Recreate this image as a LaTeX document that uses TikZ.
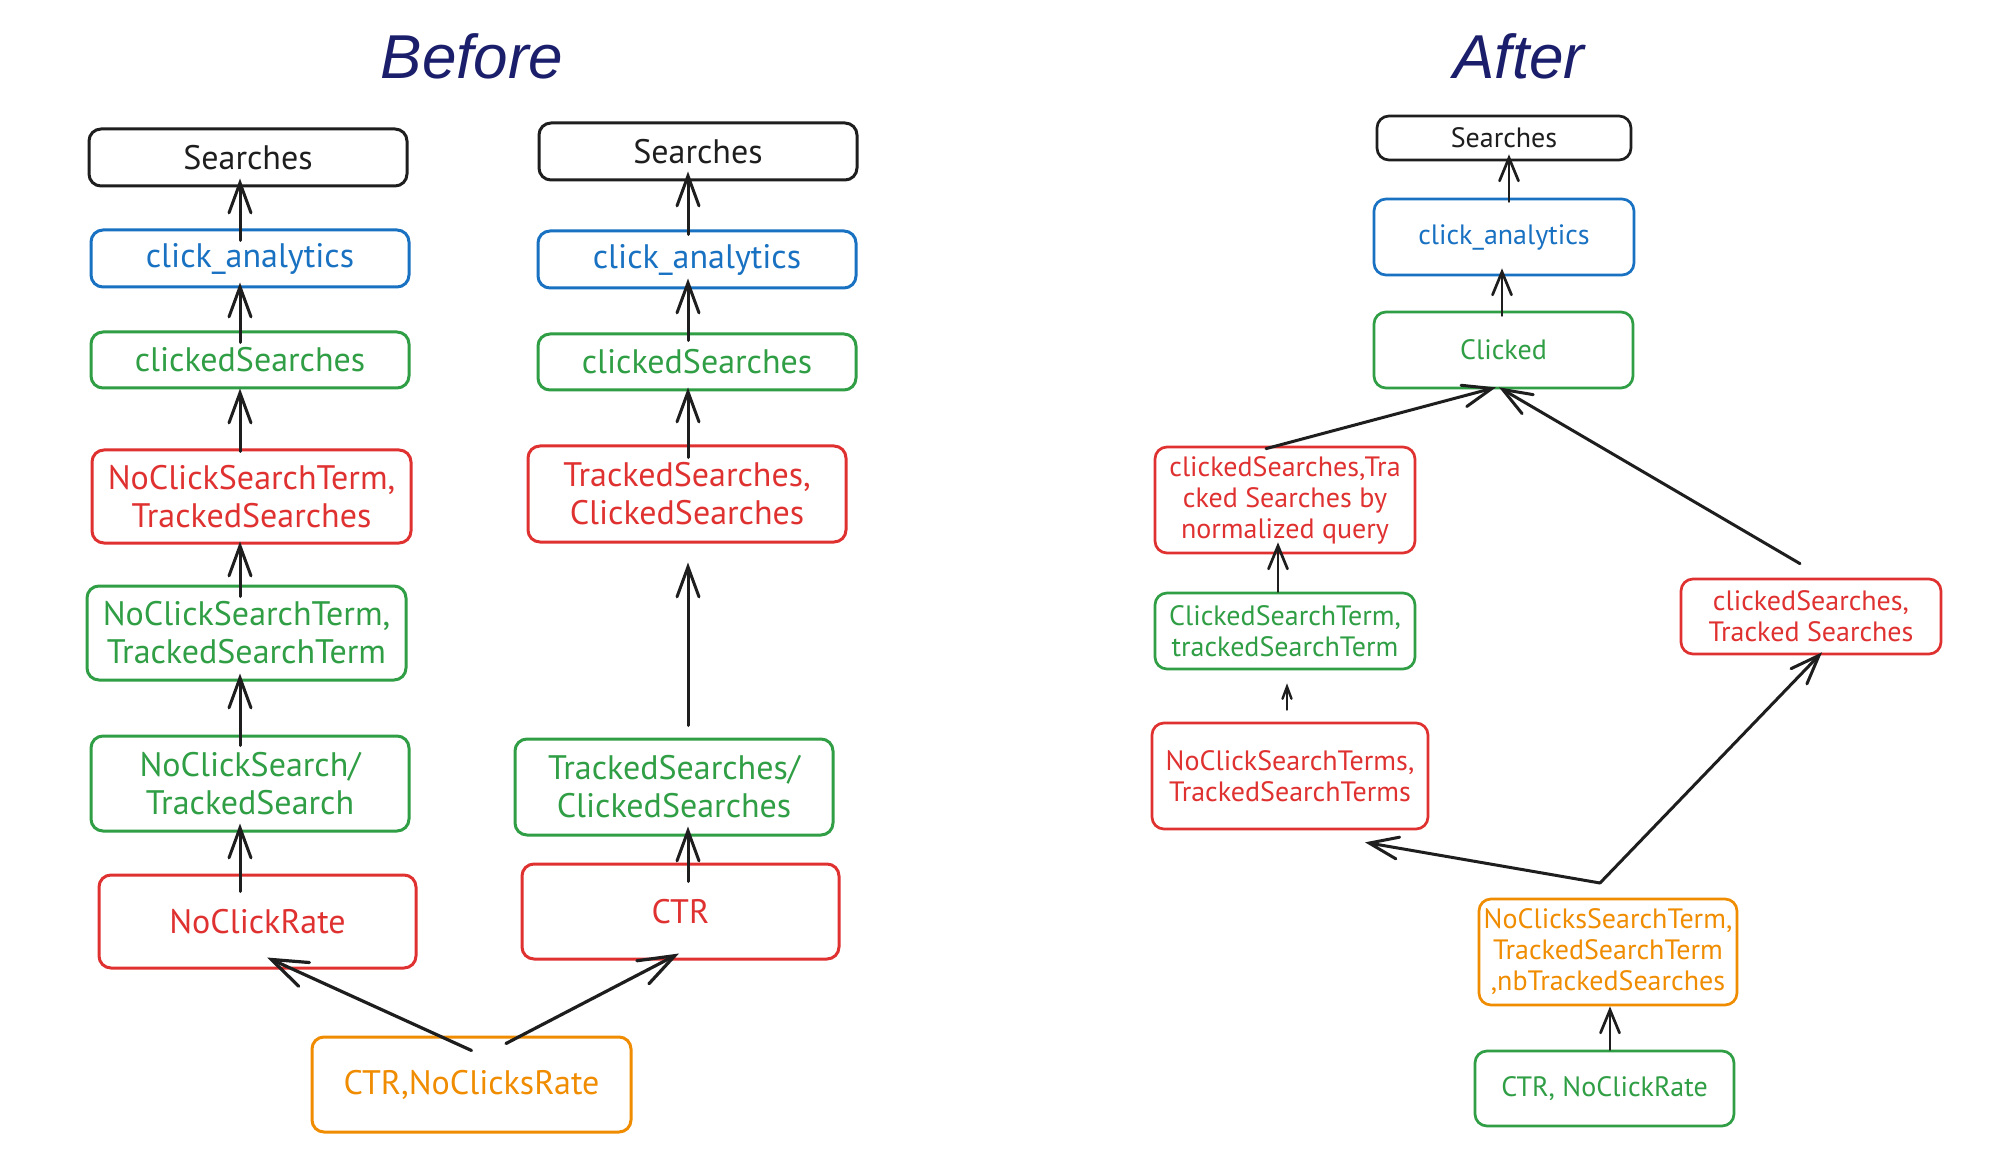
\documentclass[tikz,border=0pt]{standalone}
\usepackage{fontspec}
\setmainfont{PT Sans}
\newfontfamily\titlefont{Liberation Sans}
\usetikzlibrary{arrows.meta}
\definecolor{exblack}{HTML}{1E1E1E}
\definecolor{exblue}{HTML}{1971C2}
\definecolor{exgreen}{HTML}{2F9E44}
\definecolor{exred}{HTML}{E03131}
\definecolor{exorange}{HTML}{F08C00}
\definecolor{navy}{HTML}{1B1F6B}
\begin{document}
\begin{tikzpicture}[x=0.5pt,y=-0.5pt,
  box/.style={draw=#1, text=#1, line width=1.5pt, rounded corners=6pt, align=center, inner sep=0pt},
  abox/.style={box=#1, line width=1.35pt},
  sz/.style 2 args={minimum width={#1*0.5pt}, minimum height={#2*0.5pt}},
  bsz/.style={font=\fontsize{17}{19}\selectfont},
  asz/.style={font=\fontsize{14}{15.5}\selectfont},
  arr/.style={draw=exblack, line width=1.5pt, line cap=round, -{Straight Barb[length=15pt,width=11pt,line cap=round]}},
  arrbig/.style={draw=exblack, line width=1.6pt, line cap=round, -{Straight Barb[length=18pt,width=13pt,line cap=round]}},
  arrs/.style={draw=exblack, line width=1.35pt, line cap=round, -{Straight Barb[length=11.5pt,width=9.5pt,line cap=round]}},
  arrm/.style={draw=exblack, line width=1.5pt, line cap=round, -{Straight Barb[length=14.5pt,width=11pt,line cap=round]}},
  arrxs/.style={draw=exblack, line width=1.2pt, line cap=round, -{Straight Barb[length=6pt,width=4.5pt,line cap=round]}},
  ttl/.style={text=navy, font=\titlefont\itshape\fontsize{31}{34}\selectfont}
]
\useasboundingbox[fill=white] (0,0) rectangle (1999,1150);

% titles
\node[ttl] (tbefore) at (472,56) {Before};
\node[ttl] (tafter) at (1519,56) {After};

% ---------- Before, column 1 ----------
\node[box=exblack,bsz,sz={318}{57}] (b1s) at (248,157.5) {Searches};
\node[box=exblue,bsz,sz={318}{57}] (b1c) at (250,258.5) {click\_analytics};
\node[box=exgreen,bsz,sz={318}{56}] (b1cs) at (250,360) {clickedSearches};
\node[box=exred,bsz,sz={319}{93}] (b1r) at (251.5,496.5) {NoClickSearchTerm,\\TrackedSearches};
\node[box=exgreen,bsz,sz={319}{94}] (b1g) at (246.5,633) {NoClickSearchTerm,\\TrackedSearchTerm};
\node[box=exgreen,bsz,sz={318}{95}] (b1g2) at (250,783.5) {NoClickSearch/\\TrackedSearch};
\node[box=exred,bsz,sz={317}{93}] (b1ncr) at (257.5,921.5) {NoClickRate};
\node[box=exorange,bsz,sz={319}{95}] (b1o) at (471.5,1084.5) {CTR,NoClicksRate};

% ---------- Before, column 2 ----------
\node[box=exblack,bsz,sz={318}{57}] (b2s) at (698,151.5) {Searches};
\node[box=exblue,bsz,sz={318}{57}] (b2c) at (697,259.5) {click\_analytics};
\node[box=exgreen,bsz,sz={318}{56}] (b2cs) at (697,362) {clickedSearches};
\node[box=exred,bsz,sz={318}{96}] (b2r) at (687,494) {TrackedSearches,\\ClickedSearches};
\node[box=exgreen,bsz,sz={318}{96}] (b2g) at (674,787) {TrackedSearches/\\ClickedSearches};
\node[box=exred,bsz,sz={317}{95}] (b2ctr) at (680.5,911.5) {CTR};

% arrow columns
\coordinate (ax1) at (240,0);
\coordinate (ax2) at (688,0);

\draw[arr,shorten <=-6pt,shorten >=-4.5pt] (b1c.north -| ax1) -- (b1s.south -| ax1);
\draw[arr,shorten <=-6pt,shorten >=-3pt] (b1cs.north -| ax1) -- (b1c.south -| ax1);
\draw[arr,shorten <=-1.5pt,shorten >=-0.5pt] (b1r.north -| ax1) -- (b1cs.south -| ax1);
\draw[arr,shorten <=-6pt,shorten >=-1.5pt] (b1g.north -| ax1) -- (b1r.south -| ax1);
\draw[arr,shorten <=-5.5pt,shorten >=-4pt] (b1g2.north -| ax1) -- (b1g.south -| ax1);
\draw[arr,shorten <=-9pt,shorten >=-4.5pt] (b1ncr.north -| ax1) -- (b1g2.south -| ax1);

\draw[arr,shorten <=-2.5pt,shorten >=-5pt] (b2c.north -| ax2) -- (b2s.south -| ax2);
\draw[arr,shorten <=-4pt,shorten >=-5.5pt] (b2cs.north -| ax2) -- (b2c.south -| ax2);
\draw[arr,shorten <=-6.5pt,shorten >=-2pt] (b2r.north -| ax2) -- (b2cs.south -| ax2);
\draw[arr,shorten <=6pt,shorten >=9.5pt] (b2g.north -| ax2) -- (b2r.south -| ax2);
\draw[arr,shorten <=-9.5pt,shorten >=-5pt] (b2ctr.north -| ax2) -- (b2g.south -| ax2);

\draw[arrbig] ([yshift=-7.5pt]b1o.north) -- ([xshift=4.75pt,yshift=6pt]b1ncr.south);
\draw[arrbig] ([xshift=17.25pt,yshift=-4pt]b1o.north) -- ([xshift=-0.75pt,yshift=3.5pt]b2ctr.south);

% ---------- After ----------
\node[abox=exblack,asz,sz={254}{44}] (as) at (1504,138) {Searches};
\node[abox=exblue,asz,sz={260}{76}] (ac) at (1504,237) {click\_analytics};
\node[abox=exgreen,asz,sz={259}{76}] (acl) at (1503.5,350) {Clicked};
\node[abox=exred,asz,sz={260}{106}] (arl) at (1285,500) {clickedSearches,Tra\\cked Searches by\\normalized query};
\node[abox=exgreen,asz,sz={260}{76}] (agl) at (1285,631) {ClickedSearchTerm,\\trackedSearchTerm};
\node[abox=exred,asz,sz={276}{106}] (ancs) at (1290,776) {NoClickSearchTerms,\\TrackedSearchTerms};
\node[abox=exred,asz,sz={260}{75}] (arr) at (1811,616.5) {clickedSearches,\\Tracked Searches};
\node[abox=exorange,asz,sz={258}{106}] (ao) at (1608,952) {NoClicksSearchTerm,\\TrackedSearchTerm\\,nbTrackedSearches};
\node[abox=exgreen,asz,sz={259}{75}] (actr) at (1604.5,1088.5) {CTR, NoClickRate};

\coordinate (ax3) at (1509,0);
\coordinate (ax4) at (1502,0);
\coordinate (ax5) at (1278,0);
\coordinate (ax6) at (1287,0);
\coordinate (ax7) at (1610,0);
\coordinate (jn) at (1600,883);

\draw[arrs,shorten <=-2pt,shorten >=-3.5pt] (ac.north -| ax3) -- (as.south -| ax3);
\draw[arrs,shorten <=-2.5pt,shorten >=-4pt] (acl.north -| ax4) -- (ac.south -| ax4);
\draw[arrm] ([xshift=-9.5pt,yshift=-1.5pt]arl.north) -- ([xshift=-3.75pt,yshift=1pt]acl.south);
\draw[arrm] ([xshift=-5.5pt,yshift=7pt]arr.north) -- ([xshift=-2.25pt,yshift=1pt]acl.south);
\draw[arrs,shorten >=-6pt] (agl.north -| ax5) -- (arl.south -| ax5);
\draw[arrxs,shorten <=6pt,shorten >=6.5pt] (ancs.north -| ax6) -- (agl.south -| ax6);
\draw[arrm] (jn) -- ([xshift=37.5pt,yshift=-6pt]ancs.south);
\draw[arrm] (jn) -- ([xshift=5.5pt,yshift=1.5pt]arr.south);
\draw[arrs] (actr.north -| ax7) -- (ao.south -| ax7);
\end{tikzpicture}
\end{document}
